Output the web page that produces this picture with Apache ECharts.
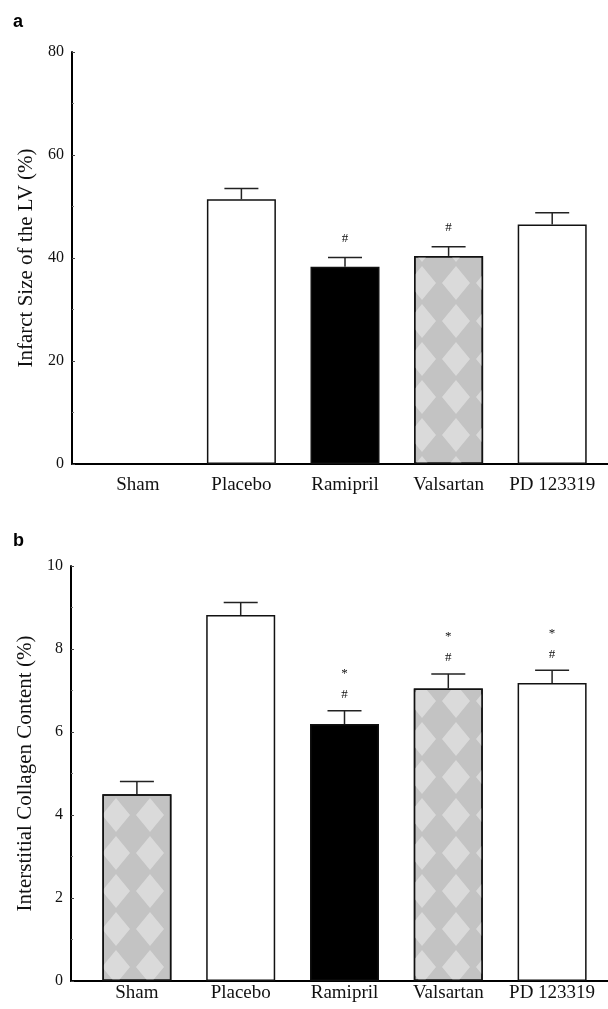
<!DOCTYPE html>
<html>
<head>
<meta charset="utf-8">
<title>Infarct size and collagen content</title>
<script src="https://cdn.jsdelivr.net/npm/echarts@6/dist/echarts.min.js"></script>
<style>
  html, body { margin: 0; padding: 0; background: #fff; }
  #main { width: 608px; height: 1009px; }
</style>
</head>
<body>
<div id="main"></div>
<script>
// groups (x axis)
var categories = ['Sham', 'Placebo', 'Ramipril', 'Valsartan', 'PD 123319'];

// panel a - infarct size of the LV (%), mean and SEM
var infarctMean = [null, 51.4, 38.3, 40.4, 46.5];
var infarctSem = [null, 2.1, 1.8, 1.8, 2.3];
var infarctSig = ['', '', '#', '#', ''];
var infarctTicks = [0, 20, 40, 60, 80];

// panel b - interstitial collagen content (%), mean and SEM
var collagenMean = [4.5, 8.82, 6.19, 7.05, 7.18];
var collagenSem = [0.31, 0.3, 0.32, 0.35, 0.31];
var collagenSig = ['', '', '*\n#', '*\n#', '*\n#'];
var collagenTicks = [0, 2, 4, 6, 8, 10];

// bar look per group
var pattern = {
  color: '#c3c3c3',
  decal: {
    symbol: 'diamond',
    symbolSize: 1,
    color: 'rgba(228,228,228,0.7)',
    dashArrayX: [[28, 6]],
    dashArrayY: [34, 4],
    rotation: 0
  }
};
var fills = {
  'Sham': pattern,
  'Placebo': { color: '#fff' },
  'Ramipril': { color: '#000' },
  'Valsartan': pattern,
  'PD 123319': { color: '#fff' }
};

var serif = 'Liberation Serif';

function barData(means) {
  return means.map(function (v, i) {
    if (v === null) return '-';
    var f = fills[categories[i]];
    return {
      value: v,
      itemStyle: {
        color: f.color,
        decal: f.decal || null,
        borderColor: '#111',
        borderWidth: 1.5
      }
    };
  });
}

function errData(means, sems, sigs) {
  var out = [];
  for (var i = 0; i < means.length; i++) {
    if (means[i] === null) continue;
    out.push({ value: [i, means[i], sems[i]], sig: sigs[i] });
  }
  return out;
}

function errRenderer(sigs, firstGap) {
  return function (params, api) {
    var i = api.value(0);
    var top = api.coord([i, api.value(1)]);
    var cap = api.coord([i, api.value(1) + api.value(2)]);
    var half = 17;
    var kids = [
      { type: 'line', shape: { x1: top[0], y1: top[1], x2: cap[0], y2: cap[1] },
        style: { stroke: '#222', lineWidth: 1.5 } },
      { type: 'line', shape: { x1: cap[0] - half, y1: cap[1], x2: cap[0] + half, y2: cap[1] },
        style: { stroke: '#222', lineWidth: 1.5 } }
    ];
    var lines = (sigs[i] || '').split('\n').filter(function (s) { return s; }).reverse();
    lines.forEach(function (s, k) {
      kids.push({
        type: 'text',
        style: {
          text: s, x: cap[0], y: cap[1] - firstGap - k * 21,
          font: '13px ' + serif, fill: '#111',
          align: 'center', verticalAlign: 'middle'
        }
      });
    });
    return { type: 'group', children: kids };
  };
}

var chart = echarts.init(document.getElementById('main'), null, { renderer: 'canvas' });

// grids: 0/1 = panel a (frame, bars), 2/3 = panel b (frame, bars)
var grids = [
  { left: 72, right: 0, top: 52, bottom: 545 },
  { left: 86, right: 4, top: 52, bottom: 545 },
  { left: 71, right: 0, top: 566, bottom: 28 },
  { left: 85, right: 4, top: 566, bottom: 28 }
];

function frameX(gi) {
  return {
    gridIndex: gi, type: 'value', min: 0, max: 1,
    axisLine: { show: true, lineStyle: { color: '#000', width: 2 } },
    axisTick: { show: false }, axisLabel: { show: false }, splitLine: { show: false }
  };
}

function catX(gi, margin) {
  return {
    gridIndex: gi, type: 'category', data: categories,
    axisLine: { show: false }, axisTick: { show: false },
    axisLabel: { fontFamily: serif, fontSize: 19, color: '#111', margin: margin, interval: 0 }
  };
}

function valY(gi, ticks, name, visible) {
  var step = ticks[1] - ticks[0];
  return {
    gridIndex: gi, type: 'value', min: ticks[0], max: ticks[ticks.length - 1], interval: step,
    show: visible,
    name: name, nameLocation: 'middle', nameGap: 28,
    nameTextStyle: { fontFamily: serif, fontSize: 21, color: '#111' },
    axisLine: { show: true, lineStyle: { color: '#000', width: 2 } },
    axisTick: { show: true, inside: true, length: 3, lineStyle: { color: '#444' } },
    minorTick: { show: true, splitNumber: 2, length: 2, lineStyle: { color: '#777' } },
    axisLabel: { fontFamily: serif, fontSize: 16, color: '#111', margin: 8 },
    splitLine: { show: false }
  };
}

var option = {
  backgroundColor: '#fff',
  animation: false,
  title: [
    { text: 'a', left: 8, top: 8, textStyle: { fontFamily: 'Liberation Sans', fontWeight: 'bold', fontSize: 18, color: '#000' } },
    { text: 'b', left: 8, top: 527, textStyle: { fontFamily: 'Liberation Sans', fontWeight: 'bold', fontSize: 18, color: '#000' } }
  ],
  grid: grids,
  xAxis: [frameX(0), catX(1, 12), frameX(2), catX(3, 3)],
  yAxis: [
    valY(0, infarctTicks, 'Infarct Size of the LV (%)', true),
    valY(1, infarctTicks, '', false),
    valY(2, collagenTicks, 'Interstitial Collagen Content (%)', true),
    valY(3, collagenTicks, '', false)
  ],
  series: [
    {
      name: 'Infarct size', type: 'bar', xAxisIndex: 1, yAxisIndex: 1,
      barWidth: 69, data: barData(infarctMean)
    },
    {
      name: 'Infarct SEM', type: 'custom', xAxisIndex: 1, yAxisIndex: 1,
      renderItem: errRenderer(infarctSig, 19), data: errData(infarctMean, infarctSem, infarctSig), z: 3
    },
    {
      name: 'Collagen', type: 'bar', xAxisIndex: 3, yAxisIndex: 3,
      barWidth: 69, data: barData(collagenMean)
    },
    {
      name: 'Collagen SEM', type: 'custom', xAxisIndex: 3, yAxisIndex: 3,
      renderItem: errRenderer(collagenSig, 16), data: errData(collagenMean, collagenSem, collagenSig), z: 3
    }
  ]
};

chart.setOption(option);
</script>
</body>
</html>
